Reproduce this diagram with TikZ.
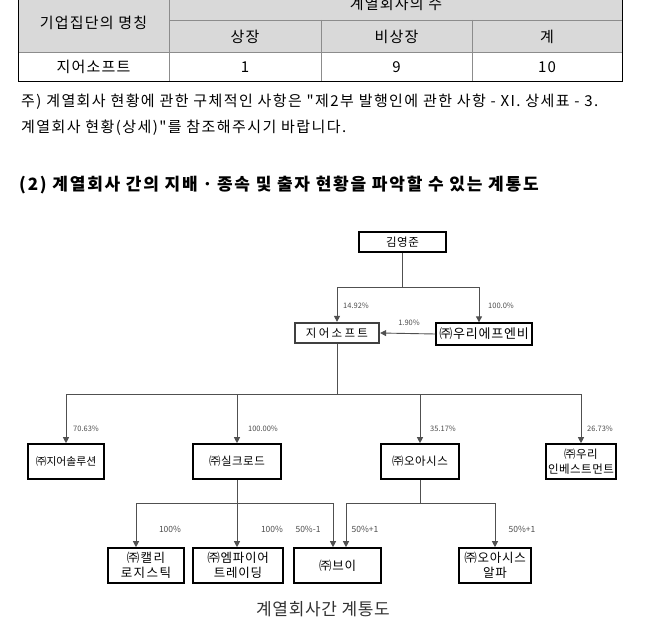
\documentclass[tikz,border=0pt]{standalone}
\usepackage{fontspec}
\setmainfont{Noto Sans CJK KR}[Ligatures=TeXOff]
\usepackage{xcolor}
\definecolor{tblgray}{RGB}{217,217,217}
\definecolor{rulegray}{RGB}{140,140,140}
\definecolor{linegray}{RGB}{80,80,80}
\usetikzlibrary{arrows.meta, calc}

\begin{document}
\begin{tikzpicture}[x=1pt, y=-1pt,
  cell/.style={font=\fontsize{15}{17}\selectfont\addfontfeature{LetterSpace=8}, inner sep=0pt},
  box/.style={draw=black, line width=1.6pt, fill=white, align=center, inner sep=1pt,
    font=\fontsize{11.5}{15}\selectfont\addfontfeature{LetterSpace=4}},
  lowbox/.style={box, minimum height=35pt,
    font=\fontsize{12.5}{15}\selectfont\addfontfeature{LetterSpace=6}},
  arr/.style={draw=linegray, line width=0.9pt, -{Triangle[length=6pt,width=6pt]}},
  ln/.style={draw=linegray, line width=0.9pt},
  pct/.style={font=\fontsize{7.5}{8}\selectfont, text=black!70, inner sep=0pt},
  pctlow/.style={pct, font=\fontsize{8.5}{9}\selectfont}]
  \useasboundingbox (0,0) rectangle (650,628);
  \clip (0,0) rectangle (650,628);

  % --- Table ---
  \fill[tblgray] (18,-5) rectangle (622,52);
  \draw[rulegray] (169,20) -- (622,20);
  \draw[rulegray] (18,52) -- (622,52);
  \draw[rulegray] (169,-5) -- (169,81);
  \foreach \x in {321,472}
    \draw[rulegray] (\x,20) -- (\x,81);
  \draw[black] (18,-5) -- (18,81) -- (622,81) -- (622,-5);
  \node[cell] (hname) at (93.5,23) {기업집단의 명칭};
  \node[cell] (hcount) at (396,4) {계열회사의 수};
  \node[cell] (hlisted) at (245,37) {상장};
  \node[cell] (hunlisted) at (396.5,37) {비상장};
  \node[cell] (htotal) at (547,37) {계};
  \node[cell] (dname) at (93.5,67) {지어소프트};
  \node[cell] (dlisted) at (245,67) {1};
  \node[cell] (dunlisted) at (396.5,67) {9};
  \node[cell] (dtotal) at (547,67) {10};

  % --- Note and heading ---
  \node[anchor=west, font=\fontsize{15}{17}\selectfont\addfontfeature{LetterSpace=9.5}, inner sep=0pt] (note1) at (21,102)
    {주) 계열회사 현황에 관한 구체적인 사항은 "제2부 발행인에 관한 사항 - XI. 상세표 - 3.};
  \node[anchor=west, font=\fontsize{15}{17}\selectfont\addfontfeature{LetterSpace=9.5}, inner sep=0pt] (note2) at (21,128)
    {계열회사 현황(상세)"를 참조해주시기 바랍니다.};
  \node[anchor=west, font=\bfseries\fontsize{17}{19}\selectfont\addfontfeature{LetterSpace=10.5}, inner sep=0pt] (heading) at (19,185)
    {(2) 계열회사 간의 지배ㆍ종속 및 출자 현황을 파악할 수 있는 계통도};

  % --- Top level ---
  \node[box, line width=1.2pt, minimum width=87pt, minimum height=20pt] (kim) at (402.5,242) {김영준};
  \node[box, draw=black!75, line width=2.2pt, minimum width=84pt, minimum height=20pt,
    font=\fontsize{11.5}{15}\selectfont\addfontfeature{LetterSpace=20}] (jio) at (337,333) {지어소프트};
  \node[box, line width=1.3pt, minimum width=96pt, minimum height=22pt,
    font=\fontsize{13}{15}\selectfont\addfontfeature{LetterSpace=6}] (woori) at (484,334) {㈜우리에프엔비};
  \path (kim.south) ++(0,35) coordinate (kimhub);
  \draw[ln] (kim.south) -- (kimhub);
  \draw[arr] (kimhub) -| (jio.north);
  \draw[arr] (kimhub) -| ([xshift=-5pt]woori.north);
  \draw[arr] (woori.west) -- (jio.east);
  \node[pct] (p1492) at (356,306) {14.92\%};
  \node[pct] (p1000) at (501,306) {100.0\%};
  \node[pct] (p190) at (409,323) {1.90\%};

  % --- Second level ---
  \node[box, minimum width=76pt, minimum height=35pt,
    font=\fontsize{10.8}{15}\selectfont] (sol) at (66,461.5) {㈜지어솔루션};
  \node[box, minimum width=88pt, minimum height=35pt] (silk) at (237,461.5) {㈜실크로드};
  \node[box, minimum width=78pt, minimum height=35pt] (oasis) at (420,461.5) {㈜오아시스};
  \node[box, minimum width=70pt, minimum height=35pt] (winv) at (581,461.5) {㈜우리\\인베스트먼트};
  \path (jio.south) ++(0,50) coordinate (jiohub);
  \draw[ln] (jio.south) -- (jiohub);
  \foreach \n in {sol,silk,oasis,winv}
    \draw[arr] (jiohub) -| (\n.north);
  \node[pct] (p7063) at (86,429) {70.63\%};
  \node[pct] (p10000) at (263,429) {100.00\%};
  \node[pct] (p3517) at (443,429) {35.17\%};
  \node[pct] (p2673) at (600,429) {26.73\%};

  % --- Third level ---
  \node[lowbox, minimum width=76pt, font=\fontsize{12.5}{15}\selectfont\addfontfeature{LetterSpace=12}] (kelly) at (146,565.5) {㈜캘리\\로지스틱};
  \node[lowbox, minimum width=90pt] (emp) at (238,565.5) {㈜엠파이어\\트레이딩};
  \node[lowbox, minimum width=87pt] (vee) at (337.5,565.5) {㈜브이};
  \node[lowbox, minimum width=72pt] (alpha) at (495,565.5) {㈜오아시스\\알파};
  \path (silk.south) ++(0,24) coordinate (silkhub);
  \draw[arr] (silk.south) -- (silk.south |- emp.north);
  \draw[arr] (silkhub) -| ([xshift=-10pt]kelly.north);
  \draw[arr] (silkhub) -| ([xshift=-4.5pt]vee.north);
  \path (oasis.south) ++(0,24) coordinate (oasishub);
  \draw[ln] (oasis.south) -- (oasishub);
  \draw[arr] (oasishub) -| ([xshift=8.5pt]vee.north);
  \draw[arr] (oasishub) -| (alpha.north);
  \node[pctlow] (p100a) at (170,529) {100\%};
  \node[pctlow] (p100b) at (272,529) {100\%};
  \node[pctlow] (p50m) at (308,529) {50\%-1};
  \node[pctlow] (p50p) at (365,529) {50\%+1};
  \node[pctlow] (p50q) at (522,529) {50\%+1};

  \node[font=\fontsize{17}{19}\selectfont\addfontfeature{LetterSpace=4}, text=black!80] (caption) at (323,609) {계열회사간 계통도};
\end{tikzpicture}
\end{document}
